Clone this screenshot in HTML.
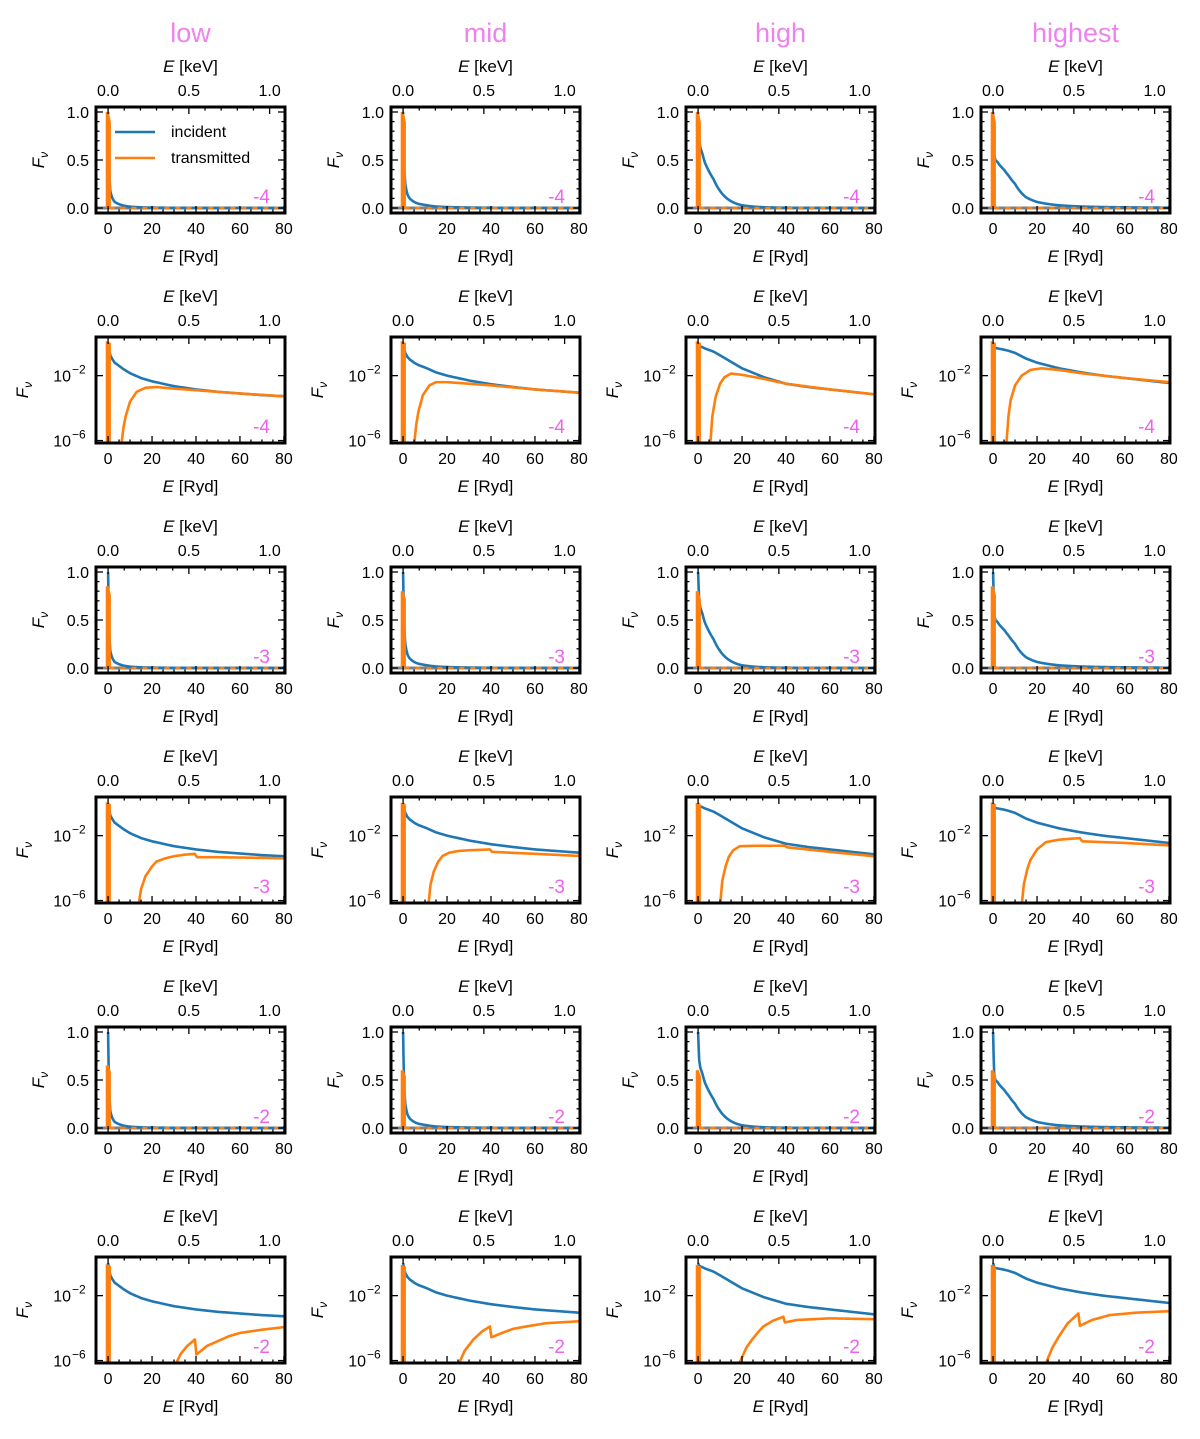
<!DOCTYPE html>
<html><head><meta charset="utf-8">
<style>
html,body{margin:0;padding:0;background:#fff;}
svg{display:block;font-family:"Liberation Sans","DejaVu Sans",sans-serif;}
</style></head>
<body>
<svg id="fig" width="1200" height="1439" viewBox="0 0 1200 1439" xmlns="http://www.w3.org/2000/svg"></svg>
<script>
// ---------- data ----------
const columns = ["low","mid","high","highest"];
const params = ["-4","-3","-2"];
const xGrid = [0,0.5,1,2,3,5,7,10,15,20,30,40,50,60,70,80];
// incident spectra, log10(F_nu)
const incLow     = [0,-0.4,-0.75,-1.0,-1.2,-1.4,-1.6,-1.85,-2.15,-2.35,-2.65,-2.85,-3.0,-3.1,-3.2,-3.27];
const incMid     = [0,-0.35,-0.6,-0.85,-1.0,-1.2,-1.35,-1.5,-1.8,-2.0,-2.3,-2.53,-2.7,-2.85,-2.95,-3.05];
const incHigh    = [0,-0.15,-0.2,-0.25,-0.32,-0.42,-0.52,-0.75,-1.15,-1.55,-2.1,-2.5,-2.7,-2.85,-3.0,-3.15];
const incHighest = [0,-0.25,-0.3,-0.32,-0.35,-0.4,-0.47,-0.6,-0.95,-1.2,-1.55,-1.8,-2.0,-2.15,-2.3,-2.45];
// transmitted spike peak (linear) per param row
const spikeM4 = [1.0,1.0,1.0,1.0];
const spikeM3 = [0.85,0.8,0.8,0.85];
const spikeM2 = [0.65,0.6,0.6,0.6];
// transmitted high-energy part, x [Ryd] and log10(F_nu)
const trXLowM4 = [6,7,8,10,13,17,22,30,40,60,80];
const trYLowM4 = [-6.3,-5.2,-4.5,-3.6,-3.0,-2.75,-2.7,-2.8,-2.9,-3.1,-3.27];
const trXMidM4 = [5,6,7,9,12,15,20,30,40,60,80];
const trYMidM4 = [-6.3,-5,-4.2,-3.2,-2.6,-2.4,-2.4,-2.5,-2.6,-2.85,-3.05];
const trXHighM4 = [5.5,6.5,8,10,12,15,20,30,40,60,80];
const trYHighM4 = [-6.3,-4.5,-3.3,-2.5,-2.1,-1.87,-1.95,-2.2,-2.5,-2.85,-3.15];
const trXHighestM4 = [6,7,8,10,13,17,22,30,40,60,80];
const trYHighestM4 = [-6.3,-4.5,-3.5,-2.6,-2.0,-1.65,-1.55,-1.65,-1.85,-2.15,-2.4];
const trXLowM3 = [13.8,15,17,20,22,26,30,35,39.5,40.5,50,60,70,80];
const trYLowM3 = [-6.3,-5.3,-4.5,-3.9,-3.6,-3.4,-3.27,-3.17,-3.12,-3.33,-3.33,-3.35,-3.37,-3.4];
const trXMidM3 = [11.5,12.5,14,16,18,21,25,30,39.5,40.5,60,80];
const trYMidM3 = [-6.3,-5,-4.2,-3.6,-3.25,-3.05,-2.95,-2.9,-2.85,-3.0,-3.12,-3.25];
const trXHighM3 = [10,11,12.5,14,16,19,25,39.5,40.5,60,80];
const trYHighM3 = [-6.3,-4.8,-3.9,-3.3,-2.9,-2.65,-2.63,-2.62,-2.72,-3.0,-3.27];
const trXHighestM3 = [13,14,15.5,17,20,24,30,39.5,40.5,60,80];
const trYHighestM3 = [-6.3,-5,-4.1,-3.5,-2.85,-2.4,-2.25,-2.15,-2.35,-2.45,-2.6];
const trXLowM2 = [30.5,33,36,39.5,40.2,45,50,55,60,70,80];
const trYLowM2 = [-6.3,-5.6,-5.1,-4.7,-5.63,-5.1,-4.8,-4.5,-4.3,-4.1,-3.94];
const trXMidM2 = [25,28,32,36,39.5,40.2,45,50,56,65,80];
const trYMidM2 = [-6.3,-5.4,-4.7,-4.2,-3.9,-4.57,-4.3,-4.05,-3.9,-3.7,-3.58];
const trXHighM2 = [18.3,20,22,24.4,27,29.7,34,38.8,39.5,45,60,80];
const trYHighM2 = [-6.3,-5.8,-5.2,-4.74,-4.3,-3.9,-3.55,-3.3,-3.65,-3.5,-3.4,-3.45];
const trXHighestM2 = [23.6,27,30,34,38.8,39.5,45,53,65,80];
const trYHighestM2 = [-6.3,-5.2,-4.5,-3.7,-3.1,-3.86,-3.5,-3.2,-3.05,-2.96];
// tick labels
const xTicks = [0,20,40,60,80];
const keVTicks = ["0.0","0.5","1.0"];
const linTicks = ["0.0","0.5","1.0"];
const logTicks = [-6,-2];

// ---------- layout ----------
const NS="http://www.w3.org/2000/svg";
const svg=document.getElementById('fig');
const colLeft=[96,391,686,981], rowTop=[107,337,567,797,1027,1257];
const AW=189, AH=106;
const XMIN=-5.5, XMAX=80.5, RYD_PER_KEV=73.5;
const LINMIN=-0.052, LINMAX=1.052, LOGMIN=-6.15, LOGMAX=0.38;
const BLUE="#1f77b4", ORANGE="#ff7f0e", VIOLET="#ee82ee", LABV="#f060f0";
const incAll=[incLow,incMid,incHigh,incHighest];
const spikeAll=[spikeM4,spikeM3,spikeM2];
const trX=[[trXLowM4,trXMidM4,trXHighM4,trXHighestM4],[trXLowM3,trXMidM3,trXHighM3,trXHighestM3],[trXLowM2,trXMidM2,trXHighM2,trXHighestM2]];
const trY=[[trYLowM4,trYMidM4,trYHighM4,trYHighestM4],[trYLowM3,trYMidM3,trYHighM3,trYHighestM3],[trYLowM2,trYMidM2,trYHighM2,trYHighestM2]];

function el(tag,attrs,parent){const e=document.createElementNS(NS,tag);for(const k in attrs)e.setAttribute(k,attrs[k]);(parent||svg).appendChild(e);return e;}
function txt(s,attrs,parent){const e=el('text',attrs,parent);e.textContent=s;return e;}

// densify in log space for smooth rendering
function dense(xs,ys){const out=[];for(let i=0;i<xs.length-1;i++){const n=Math.max(1,Math.ceil((xs[i+1]-xs[i])/0.25));for(let k=0;k<n;k++){const t=k/n;out.push([xs[i]+(xs[i+1]-xs[i])*t,ys[i]+(ys[i+1]-ys[i])*t]);}}out.push([xs[xs.length-1],ys[ys.length-1]]);return out;}

let clipId=0;
columns.forEach((cname,c)=>{
  const L=colLeft[c];
  const t=txt(cname,{x:L+AW/2,y:42,'text-anchor':'middle','font-size':27,fill:VIOLET});
  
  
});

for(let r=0;r<6;r++){
  for(let c=0;c<4;c++){
    const L=colLeft[c],T=rowTop[r],isLog=(r%2===1),p=Math.floor(r/2);
    const g=el('g',{});
    
    
    const sx=x=>L+(x-XMIN)/(XMAX-XMIN)*AW;
    const sy=lv=>{ if(isLog) return T+AH-(lv-LOGMIN)/(LOGMAX-LOGMIN)*AH; const v=Math.pow(10,lv); return T+AH-(v-LINMIN)/(LINMAX-LINMIN)*AH; };
    const syLin=v=>T+AH-(v-LINMIN)/(LINMAX-LINMIN)*AH;
    const id='clip'+(clipId++);
    const cp=el('clipPath',{id:id},g); el('rect',{x:L,y:T,width:AW,height:AH},cp);
    const plot=el('g',{'clip-path':'url(#'+id+')'},g);
    if(!isLog){
      const gl=el('line',{x1:L,x2:L+AW,y1:syLin(0),y2:syLin(0),stroke:'#808080','stroke-width':3},plot);
      
      
    }
    // incident
    const ip=dense(xGrid,incAll[c]).map(q=>sx(q[0]).toFixed(2)+','+sy(q[1]).toFixed(2)).join(' ');
    const inc=el('polyline',{points:ip,fill:'none',stroke:BLUE,'stroke-width':2.6,'stroke-linejoin':'round'},plot);
    
    
    // transmitted spike
    const pk=Math.log10(spikeAll[p][c]);
    const spx=[-0.4,-0.4,0.6,0.6], spy=[-9,pk,pk-0.05,-9];
    const sp=el('polyline',{points:spx.map((x,i)=>sx(x).toFixed(2)+','+sy(spy[i]).toFixed(2)).join(' '),fill:'none',stroke:ORANGE,'stroke-width':3},plot);
    
    
    if(!isLog){
      const dl=el('line',{x1:sx(0.6),x2:L+AW,y1:syLin(0),y2:syLin(0),stroke:ORANGE,'stroke-width':2.4,'stroke-dasharray':'5 6'},plot);
      
      
    } else {
      const tp=dense(trX[p][c],trY[p][c]).map(q=>sx(q[0]).toFixed(2)+','+sy(q[1]).toFixed(2)).join(' ');
      const tl=el('polyline',{points:tp,fill:'none',stroke:ORANGE,'stroke-width':2.6,'stroke-linejoin':'round'},plot);
      
      
    }
    // ticks
    const tk=el('g',{stroke:'#000','stroke-width':1.3},g);
    for(let x=0;x<=80;x+=5){const X=sx(x),len=(x%20===0)?7:3.5;
      el('line',{x1:X,x2:X,y1:T+AH,y2:T+AH-len},tk);}
    for(let k=0;k<=10;k++){const X=sx(k*0.1*RYD_PER_KEV),len=(k%5===0)?7:3.5;
      el('line',{x1:X,x2:X,y1:T,y2:T+len},tk);}
    if(!isLog){
      for(let k=0;k<=10;k++){const Y=syLin(k/10),len=(k%5===0)?7:3.5;
        el('line',{x1:L,x2:L+len,y1:Y,y2:Y},tk); el('line',{x1:L+AW,x2:L+AW-len,y1:Y,y2:Y},tk);}
    } else {
      logTicks.forEach(lv=>{const Y=sy(lv); el('line',{x1:L,x2:L+7,y1:Y,y2:Y},tk); el('line',{x1:L+AW,x2:L+AW-7,y1:Y,y2:Y},tk);});
    }
    // frame
    const fr=el('rect',{x:L,y:T,width:AW,height:AH,fill:'none',stroke:'#000','stroke-width':3},g);
    
    
    // tick labels
    const lab=el('g',{'font-size':16,fill:'#000'},g);
    
    
    xTicks.forEach(x=>txt(String(x),{x:sx(x),y:T+AH+21,'text-anchor':'middle'},lab));
    keVTicks.forEach(s=>txt(s,{x:sx(parseFloat(s)*RYD_PER_KEV),y:T-11,'text-anchor':'middle'},lab));
    if(!isLog){
      linTicks.forEach(s=>txt(s,{x:L-7,y:syLin(parseFloat(s))+6,'text-anchor':'end'},lab));
    } else {
      logTicks.forEach(lv=>{
        txt('10',{x:L-25,y:sy(lv)+6,'text-anchor':'end'},lab);
        txt('\u2212'+Math.abs(lv),{x:L-24,y:sy(lv)-2,'text-anchor':'start','font-size':12},lab);});
    }
    // axis labels
    const xl=el('text',{x:L+AW/2,y:T+AH+49,'text-anchor':'middle','font-size':17},g);
    xl.innerHTML='<tspan font-style="italic">E</tspan>  [Ryd]';
    
    
    const xt=el('text',{x:L+AW/2,y:T-35,'text-anchor':'middle','font-size':17},g);
    xt.innerHTML='<tspan font-style="italic">E</tspan>  [keV]';
    
    
    const yx=isLog?L-68:L-52, yy=T+AH/2;
    const yl=el('text',{x:yx,y:yy,'text-anchor':'middle','font-size':17,transform:'rotate(-90 '+yx+' '+yy+')'},g);
    yl.innerHTML='<tspan font-style="italic">F</tspan><tspan font-style="italic" font-size="12" dy="4">ν</tspan>';
    
    
    const pl=txt(params[p],{x:L+AW-15,y:T+AH-10,'text-anchor':'end','font-size':19,fill:LABV},g);
    
    
    if(r===0&&c===0){
      const lg=el('g',{},g);
      
      
      el('line',{x1:115,x2:155,y1:132,y2:132,stroke:BLUE,'stroke-width':2.6},lg);
      txt('incident',{x:171,y:137,'font-size':16},lg);
      el('line',{x1:115,x2:155,y1:158,y2:158,stroke:ORANGE,'stroke-width':2.6},lg);
      txt('transmitted',{x:171,y:163,'font-size':16},lg);
    }
  }
}
</script>
</body></html>
